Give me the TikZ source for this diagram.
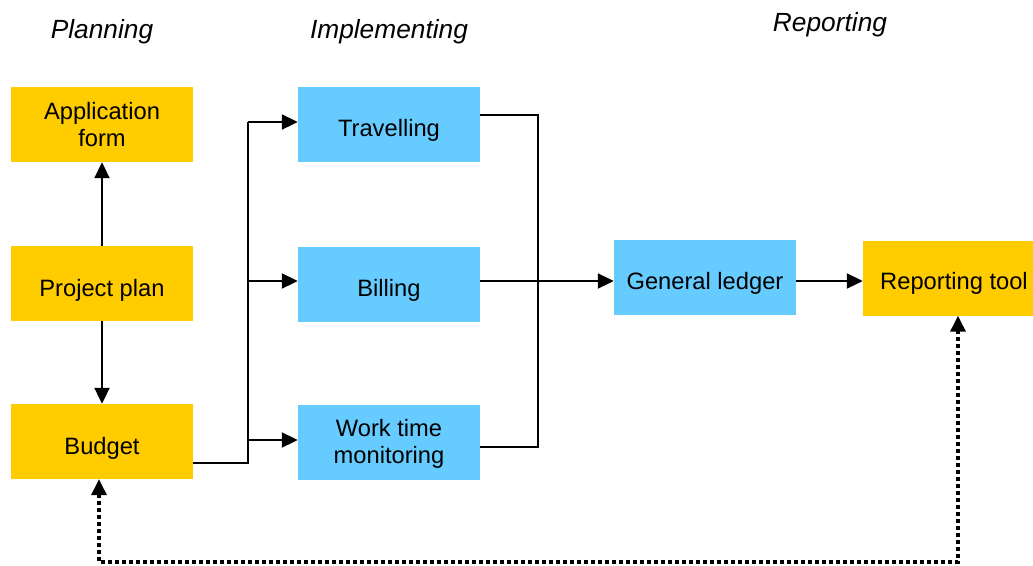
\documentclass[tikz,border=0pt]{standalone}
\usepackage{fontspec}
\setmainfont{Liberation Sans}
\usetikzlibrary{arrows.meta}
\definecolor{ybox}{HTML}{FFCC00}
\definecolor{bbox}{HTML}{66CCFF}
\tikzset{
  boxbase/.style={rectangle, inner sep=0pt, minimum width=182pt, minimum height=75pt},
  txt/.style={align=center, inner sep=0pt, font=\fontsize{23.7}{27.5}\selectfont},
  ybx/.style={boxbase, fill=ybox},
  bbx/.style={boxbase, fill=bbox},
  ttl/.style={font=\fontsize{26.3}{30}\selectfont\itshape},
  ln/.style={line width=2pt, black},
  arr/.style={ln, -{Triangle[length=16pt,width=15pt]}},
  dotarr/.style={line width=3.5pt, dash pattern=on 3.5pt off 3.5pt, {Triangle[length=16pt,width=15pt]}-{Triangle[length=16pt,width=15pt]}},
}
\begin{document}
\begin{tikzpicture}[x=1pt,y=-1pt]
\useasboundingbox (0,0) rectangle (1033,565);
\clip (0,0) rectangle (1033,565);
\node[ttl] (tplan) at (102,32) {Planning};
\node[ttl] (timpl) at (389,32) {Implementing};
\node[ttl] (trep) at (830,25) {Reporting};
\node[ybx, label={[txt]center:{Application\\form}}] (app) at (102,124.5) {};
\node[ybx, label={[txt, yshift=-6.5pt]center:Project plan}] (plan) at (102,283.5) {};
\node[ybx, label={[txt, yshift=-7pt]center:Budget}] (budget) at (102,441.5) {};
\node[bbx, label={[txt, yshift=-6pt]center:Travelling}] (travel) at (389,124.5) {};
\node[bbx, label={[txt, yshift=-6.5pt]center:Billing}] (bill) at (389,284) {};
\node[bbx, label={[txt, yshift=-2pt]center:{Work time\\monitoring}}] (work) at (389,442) {};
\node[bbx, label={[txt, yshift=-6pt]center:General ledger}] (gl) at (705,277.5) {};
\node[ybx, label={[txt, yshift=-5pt]center:Reporting tool}] (rep) at (954,278) {};
\draw[arr] (plan.north) -- (app.south);
\draw[arr] (plan.south) -- (budget.north);
\coordinate (tj) at (248,463);
\coordinate (tt) at (248,122);
\coordinate (tb) at (248,281);
\coordinate (tw) at (248,440);
\draw[ln] (tj -| budget.east) -- (tj) -- (tt);
\draw[arr] (tt) -- (tt -| travel.west);
\draw[arr] (tb) -- (tb -| bill.west);
\draw[arr] (tw) -- (tw -| work.west);
\coordinate (b1) at (538,115);
\coordinate (b2) at (538,447);
\draw[ln] (b1 -| travel.east) -- (b1) -- (b2) -- (b2 -| work.east);
\coordinate (m) at (500,281);
\draw[arr] (m -| bill.east) -- (m -| gl.west);
\draw[arr] (m -| gl.east) -- (m -| rep.west);
\coordinate (d1) at (99,562);
\coordinate (d2) at (958,562);
\draw[dotarr] (budget.south -| d1) -- (d1) -- (d2) -- (rep.south -| d2);
\end{tikzpicture}
\end{document}
